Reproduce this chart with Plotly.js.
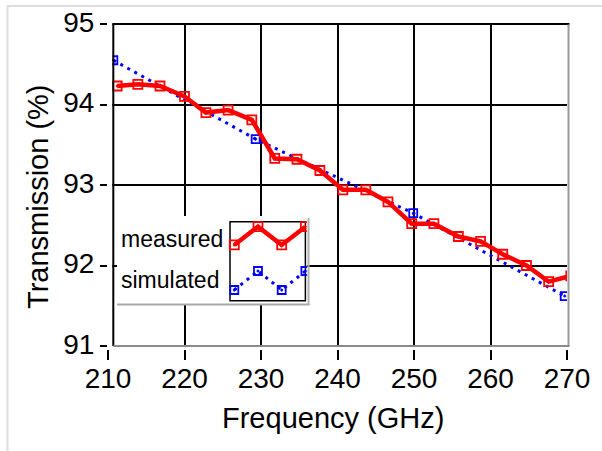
<!DOCTYPE html>
<html>
<head>
<meta charset="utf-8">
<script src="https://cdn.plot.ly/plotly-3.0.1.min.js"></script>
<style>html,body{margin:0;padding:0;background:#fff;}#chart{width:602px;height:451px;}</style>
</head>
<body>
<div id="chart"></div>
<script>
// ---- data ----
var freqMeasured = [211.2, 213.9, 216.8, 220.0, 222.8, 225.7, 228.8, 231.8, 234.7, 237.7, 240.7,
                    243.7, 246.6, 249.7, 252.6, 255.8, 258.7, 261.6, 264.7, 267.6, 270.5];
var transMeasured = [94.23, 94.25, 94.23, 94.10, 93.90, 93.93, 93.81, 93.33, 93.32, 93.18, 92.94,
                     92.94, 92.79, 92.52, 92.52, 92.36, 92.30, 92.14, 92.00, 91.80, 91.87];
var freqSimulated = [210.7, 229.3, 249.9, 269.7];
var transSimulated = [94.55, 93.57, 92.65, 91.62];

var xTickVals = [210, 220, 230, 240, 250, 260, 270];
var xTickText = ['210', '220', '230', '240', '250', '260', '270'];
var yTickVals = [91, 92, 93, 94, 95];
var yTickText = ['91', '92', '93', '94', '95'];

var seriesNames = ['measured', 'simulated'];
// legend sample zigzag (drawn in the legend inset)
var legendX = [0, 1, 2, 3];
var legendMeasured = [0.672, 0.879, 0.672, 0.879];
var legendSimulated = [0.162, 0.377, 0.162, 0.377];

var RED = '#ff0000', BLUE = '#0000ff';
var FONT = 'Liberation Sans, Arial, sans-serif';
var DOTS = '3px,5px';

var traces = [
  {x: freqSimulated, y: transSimulated, type: 'scatter', mode: 'lines+markers',
   line: {color: BLUE, width: 3, dash: DOTS},
   marker: {symbol: 'square-open-dot', size: 8, color: BLUE, line: {width: 1.8, color: BLUE}},
   xaxis: 'x', yaxis: 'y', showlegend: false, hoverinfo: 'skip'},
  {x: freqMeasured, y: transMeasured, type: 'scatter', mode: 'lines+markers',
   line: {color: RED, width: 4.5},
   marker: {symbol: 'square-open-dot', size: 9, color: RED, line: {width: 1.8, color: RED}},
   xaxis: 'x', yaxis: 'y', showlegend: false, hoverinfo: 'skip'},
  {x: legendX, y: legendMeasured, type: 'scatter', mode: 'lines+markers',
   line: {color: RED, width: 4.5},
   marker: {symbol: 'square-open-dot', size: 9, color: RED, line: {width: 1.8, color: RED}},
   xaxis: 'x2', yaxis: 'y2', showlegend: false, hoverinfo: 'skip'},
  {x: legendX, y: legendSimulated, type: 'scatter', mode: 'lines+markers',
   line: {color: BLUE, width: 3, dash: DOTS},
   marker: {symbol: 'square-open-dot', size: 8, color: BLUE, line: {width: 1.8, color: BLUE}},
   xaxis: 'x2', yaxis: 'y2', showlegend: false, hoverinfo: 'skip'}
];

// geometry helpers (plot area: 108..567 px wide, 24..346 px tall)
var L = 108, R = 567, T = 24, B = 346;
function px(p) { return (p - L) / (R - L); }
function py(p) { return (B - p) / (B - T); }

var shapes = [
  // legend inset (drawn in the x2/y2 subplot, above the main grid)
  {type: 'rect', xref: 'x2', yref: 'y2', x0: -4.949, x1: 3.068, y0: 0, y1: 1,
   fillcolor: '#ffffff', line: {width: 0}, layer: 'below'},
  {type: 'rect', xref: 'x2', yref: 'y2', x0: -0.181, x1: 3.0, y0: 0.041, y1: 0.935,
   fillcolor: '#ffffff', line: {color: '#000000', width: 1.5}, layer: 'below'},
  // gap between axis frame and tick marks
  {type: 'rect', xref: 'paper', yref: 'paper', x0: px(106), x1: px(575), y0: py(347.0), y1: py(350.0),
   fillcolor: '#ffffff', line: {width: 0}, layer: 'above'},
  {type: 'rect', xref: 'paper', yref: 'paper', x0: 0, x1: px(112.3), y0: 0, y1: 1,
   fillcolor: '#ffffff', line: {width: 0}, layer: 'above'},
  // plot frame
  {type: 'line', xref: 'paper', yref: 'paper', x0: px(113.3), x1: px(113.3), y0: 0, y1: 1,
   line: {color: '#000000', width: 2}, layer: 'above'},
  {type: 'line', xref: 'paper', yref: 'paper', x0: px(112.3), x1: px(569.5), y0: 1, y1: 1,
   line: {color: '#000000', width: 2}, layer: 'above'},
  {type: 'line', xref: 'paper', yref: 'paper', x0: px(568.5), x1: px(568.5), y0: 0, y1: py(24.5),
   line: {color: '#9a9a9a', width: 2}, layer: 'above'},
  {type: 'line', xref: 'paper', yref: 'paper', x0: px(113.3), x1: px(569.5), y0: 0, y1: 0,
   line: {color: '#8a8a8a', width: 2}, layer: 'above'},
  // legend shadow
  {type: 'line', xref: 'paper', yref: 'paper', x0: px(117), x1: px(309.5), y0: py(304.5), y1: py(304.5),
   line: {color: '#a8a8a8', width: 2}, layer: 'above'},
  {type: 'line', xref: 'paper', yref: 'paper', x0: px(308.5), x1: px(308.5), y0: py(218), y1: py(305),
   line: {color: '#b0b0b0', width: 2}, layer: 'above'},
  // outer picture border
  {type: 'line', xref: 'paper', yref: 'paper', x0: px(7), x1: px(602), y0: py(6), y1: py(6),
   line: {color: '#dedede', width: 2}, layer: 'above'},
  {type: 'line', xref: 'paper', yref: 'paper', x0: px(7.5), x1: px(7.5), y0: py(6), y1: py(451),
   line: {color: '#dedede', width: 2}, layer: 'above'}
];

var annotations = [
  {text: 'Frequency (GHz)', xref: 'paper', yref: 'paper', x: px(332.5), y: py(418),
   xanchor: 'center', yanchor: 'middle', showarrow: false, font: {family: FONT, size: 29, color: '#000'}},
  {text: 'Transmission (%)', xref: 'paper', yref: 'paper', x: px(38), y: py(197), textangle: -90,
   xanchor: 'center', yanchor: 'middle', showarrow: false, font: {family: FONT, size: 29, color: '#000'}},
  {text: seriesNames[0], xref: 'paper', yref: 'paper', x: px(118.5), y: py(239),
   xanchor: 'left', yanchor: 'middle', showarrow: false, font: {family: FONT, size: 23, color: '#000'}},
  {text: seriesNames[1], xref: 'paper', yref: 'paper', x: px(119), y: py(280.3),
   xanchor: 'left', yanchor: 'middle', showarrow: false, font: {family: FONT, size: 23, color: '#000'}}
];

var layout = {
  width: 602, height: 451,
  margin: {l: L, r: 602 - R, t: T, b: 451 - B, pad: 0},
  paper_bgcolor: '#ffffff', plot_bgcolor: '#ffffff',
  showlegend: false,
  font: {family: FONT, color: '#000'},
  xaxis: {
    range: [210, 270], tickmode: 'array', tickvals: xTickVals, ticktext: xTickText,
    showgrid: true, gridcolor: '#000000', gridwidth: 2, zeroline: false, showline: false,
    ticks: 'outside', ticklen: 13, tickwidth: 2, tickcolor: '#000', ticklabelstandoff: -6,
    tickfont: {family: FONT, size: 28, color: '#000'}, fixedrange: true, domain: [0, 1]
  },
  yaxis: {
    range: [91, 95], tickmode: 'array', tickvals: yTickVals, ticktext: yTickText,
    showgrid: true, gridcolor: '#000000', gridwidth: 2, zeroline: false, showline: false,
    ticks: 'outside', ticklen: 7, tickwidth: 2, tickcolor: '#000', ticklabelshift: -2,
    tickfont: {family: FONT, size: 28, color: '#000'}, fixedrange: true, domain: [0, 1]
  },
  xaxis2: {domain: [px(117), px(307)], range: [-4.949, 3.068], visible: false, anchor: 'y2', fixedrange: true},
  yaxis2: {domain: [py(304.3), py(216)], range: [0, 1], visible: false, anchor: 'x2', fixedrange: true},
  shapes: shapes,
  annotations: annotations
};

Plotly.newPlot('chart', traces, layout, {displayModeBar: false, staticPlot: true});
</script>
</body>
</html>
